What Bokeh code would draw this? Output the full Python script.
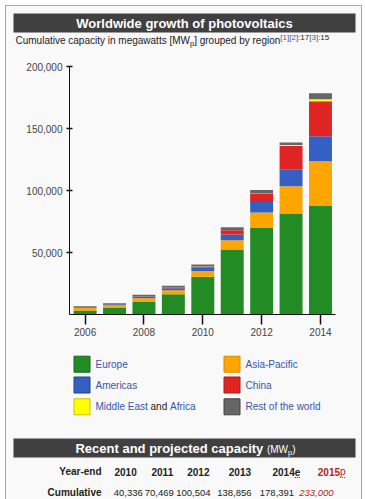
from bokeh.plotting import figure
from bokeh.models import Range1d, ColumnDataSource, FixedTicker, NumeralTickFormatter
from bokeh.layouts import column
from bokeh.core.properties import value
from bokeh.embed import file_html
from bokeh.resources import INLINE

# ---------------- data ----------------
years = [2006, 2007, 2008, 2009, 2010, 2011, 2012, 2013, 2014]
europe = [3300, 5200, 10500, 16357, 30400, 52400, 70200, 81500, 88000]
asia_pacific = [1900, 2200, 2600, 3200, 4600, 7500, 12100, 22000, 35500]
americas = [620, 850, 1300, 1600, 2800, 4600, 8400, 13700, 20200]
china = [80, 100, 140, 300, 800, 3400, 7000, 18600, 28200]
middle_east_africa = [10, 15, 20, 30, 50, 100, 300, 900, 1600]
rest_of_world = [760, 800, 1300, 1700, 1700, 2400, 2500, 2100, 4900]

regions = ["Europe", "Asia-Pacific", "Americas", "China", "Middle East and Africa", "Rest of the world"]
colors = ["#238b23", "#ffa500", "#3461c1", "#e02424", "#ffff00", "#666666"]
borders = ["#16651a", "#d98a00", "#20428e", "#a81818", "#c9c400", "#444444"]

y_ticks = [50000, 100000, 150000, 200000]
x_ticks = [2006, 2008, 2010, 2012, 2014]

table_years = ["2010", "2011", "2012", "2013", "2014", "2015"]
table_suffix = ["", "", "", "", "e", "p"]
table_cumulative = ["40,336", "70,469", "100,504", "138,856", "178,391", "233,000"]

TITLE = "Worldwide growth of photovoltaics"
TABLE_TITLE = "Recent and projected capacity"

BG = "#f9f9f9"
DARK = "#404040"
LINK = "#3556a8"
TEXT = "#222222"
FONT = value("Liberation Sans")
W = 355
OFF = 6  # page offset of the figures (margin + border)

# Arial / Liberation Sans advance widths (per 1000 em)
REG = {' ': 278, ',': 278, '.': 278, ':': 278, '[': 278, ']': 278, '(': 333, ')': 333, '-': 333,
       'a': 556, 'b': 556, 'c': 500, 'd': 556, 'e': 556, 'f': 278, 'g': 556, 'h': 556, 'i': 222,
       'j': 222, 'k': 500, 'l': 222, 'm': 833, 'n': 556, 'o': 556, 'p': 556, 'q': 556, 'r': 333,
       's': 500, 't': 278, 'u': 556, 'v': 500, 'w': 722, 'x': 500, 'y': 500, 'z': 500,
       'A': 667, 'C': 722, 'E': 667, 'M': 833, 'R': 722, 'W': 944, 'Y': 667}
BOLD = {' ': 278, '-': 333, 'a': 556, 'c': 556, 'd': 611, 'e': 556, 'i': 278, 'j': 278, 'n': 611,
        'o': 611, 'p': 611, 'r': 389, 't': 333, 'y': 556, 'R': 722}


def tw(s, size, bold=False):
    tab = BOLD if bold else REG
    return sum(tab.get(c, 556) for c in s) / 1000.0 * size


def canvas(h):
    f = figure(width=W, height=h, x_range=Range1d(0, W), y_range=Range1d(h, 0),
               x_axis_type=None, y_axis_type=None, output_backend="svg",
               toolbar_location=None, min_border=0, frame_align=False)
    f.grid.visible = False
    f.outline_line_color = None
    f.background_fill_color = BG
    f.border_fill_color = BG
    return f


def txt(f, x, y, s, size, color=TEXT, bold=False, italic=False, align="left"):
    style = "bold italic" if (bold and italic) else ("bold" if bold else ("italic" if italic else "normal"))
    f.text(x=[x], y=[y], text=[s], text_font=FONT, text_font_size=f"{size}px",
           text_font_style=style, text_color=color, text_align=align, text_baseline="middle")


# ---------------- header ----------------
header = canvas(52)
header.quad(left=[7], right=[349], top=[7], bottom=[26], fill_color=DARK, line_color=None)
txt(header, 178, 16.5, TITLE, 13, color="white", bold=True, align="center")
x0 = 9
sub_a = "Cumulative capacity in megawatts [MW"
txt(header, x0, 34, sub_a, 10)
x0 += tw(sub_a, 10)
txt(header, x0, 37, "p", 7.5)
x0 += tw("p", 7.5)
sub_b = "] grouped by region"
txt(header, x0, 34, sub_b, 10)
x0 += tw(sub_b, 10)
for piece, col in [("[1][2]", LINK), (":17", TEXT), ("[3]", LINK), (":15", TEXT)]:
    txt(header, x0, 31, piece, 8, color=col)
    x0 += tw(piece, 8)

# ---------------- chart ----------------
src = ColumnDataSource(dict(year=years, Europe=europe, AsiaPacific=asia_pacific, Americas=americas,
                            China=china, MEA=middle_east_africa, ROW=rest_of_world))
stack_cols = ["Europe", "AsiaPacific", "Americas", "China", "MEA", "ROW"]

p = figure(width=W, height=287, x_range=Range1d(2005.47, 2014.51), y_range=Range1d(0, 200000),
           output_backend="svg", toolbar_location=None, frame_align=False,
           min_border_left=63, min_border_right=W - 63 - 266, min_border_top=8, min_border_bottom=31)
p.background_fill_color = BG
p.border_fill_color = BG
p.outline_line_color = None
p.grid.visible = False
p.vbar_stack(stack_cols, x="year", width=0.78, source=src, fill_color=colors, line_color=None)

p.yaxis.ticker = FixedTicker(ticks=y_ticks)
p.yaxis.formatter = NumeralTickFormatter(format="0,0")
p.yaxis.major_tick_in = 3
p.yaxis.major_tick_out = 3
p.yaxis.major_label_standoff = 4
p.xaxis.ticker = FixedTicker(ticks=x_ticks)
p.xaxis.major_tick_in = 0
p.xaxis.major_tick_out = 10
p.xaxis.major_label_standoff = 3
for ax in (p.xaxis, p.yaxis):
    ax.minor_tick_line_color = None
    ax.axis_line_color = "#111111"
    ax.major_tick_line_color = "#111111"
    ax.major_tick_line_width = 1.5
    ax.major_label_text_font = "Liberation Sans"
    ax.major_label_text_font_size = "10px"
    ax.major_label_text_color = "#444444"

# ---------------- legend ----------------
leg = canvas(80)
col_x = [67.5, 217.5]
row_y = [18.7, 39.5, 61.3]
for i, name in enumerate(regions):
    cx = col_x[i % 2]
    cy = row_y[i // 2]
    leg.quad(left=[cx], right=[cx + 16], top=[cy - 8], bottom=[cy + 8],
             fill_color=colors[i], line_color=borders[i], line_width=1)
    tx = cx + 21.5
    if name == "Middle East and Africa":
        for piece, colr in [("Middle East ", LINK), ("and ", TEXT), ("Africa", LINK)]:
            txt(leg, tx, cy, piece.strip(), 10, color=colr)
            tx += tw(piece, 10)
    else:
        txt(leg, tx, cy, name, 10, color=LINK)

# ---------------- table ----------------
tab = canvas(74)
tab.quad(left=[7], right=[349], top=[13], bottom=[32], fill_color=DARK, line_color=None)
tail = "(MW"
total_w = tw(TABLE_TITLE + " ", 13, True) + tw(tail, 10) + tw("p", 7.5) + tw(")", 10)
hx = 179 - total_w / 2
txt(tab, hx, 22.5, TABLE_TITLE, 13, color="white", bold=True)
hx += tw(TABLE_TITLE + " ", 13, True)
txt(tab, hx, 23.5, tail, 10, color="white")
hx += tw(tail, 10)
txt(tab, hx, 26.5, "p", 7.5, color="white")
hx += tw("p", 7.5)
txt(tab, hx, 23.5, ")", 10, color="white")

txt(tab, 101 - OFF, 46.3, "Year-end", 10, bold=True, align="right")
txt(tab, 101 - OFF, 67.3, "Cumulative", 10, bold=True, align="right")
year_x = [114, 151, 186.7, 228.3, 272, 317.3]
val_x = [113.3, 144.3, 175.7, 216.7, 259.3, 298.7]
RED = "#b32424"
for i, (yr, suf, val) in enumerate(zip(table_years, table_suffix, table_cumulative)):
    red = suf == "p"
    colr = RED if red else TEXT
    yx = year_x[i] - OFF
    txt(tab, yx, 46.3, yr, 10, color=colr, bold=True)
    if suf:
        sx = yx + tw(yr, 10, True)
        txt(tab, sx, 46.3, suf, 10, color=colr, bold=(suf == "e"))
        tab.segment(x0=[sx], y0=[52], x1=[sx + tw(suf, 10)], y1=[52],
                    line_color=colr, line_dash="1 1", line_width=1)
    txt(tab, val_x[i] - OFF, 67.3, val, 9.5, color=colr, italic=red)

layout = column(header, p, leg, tab, spacing=0,
                styles={"margin": "5px 0 0 5px", "border": "1px solid #a2a9b1",
                        "border-bottom": "none", "background-color": BG})
open("out.html", "w").write(file_html(layout, INLINE))
